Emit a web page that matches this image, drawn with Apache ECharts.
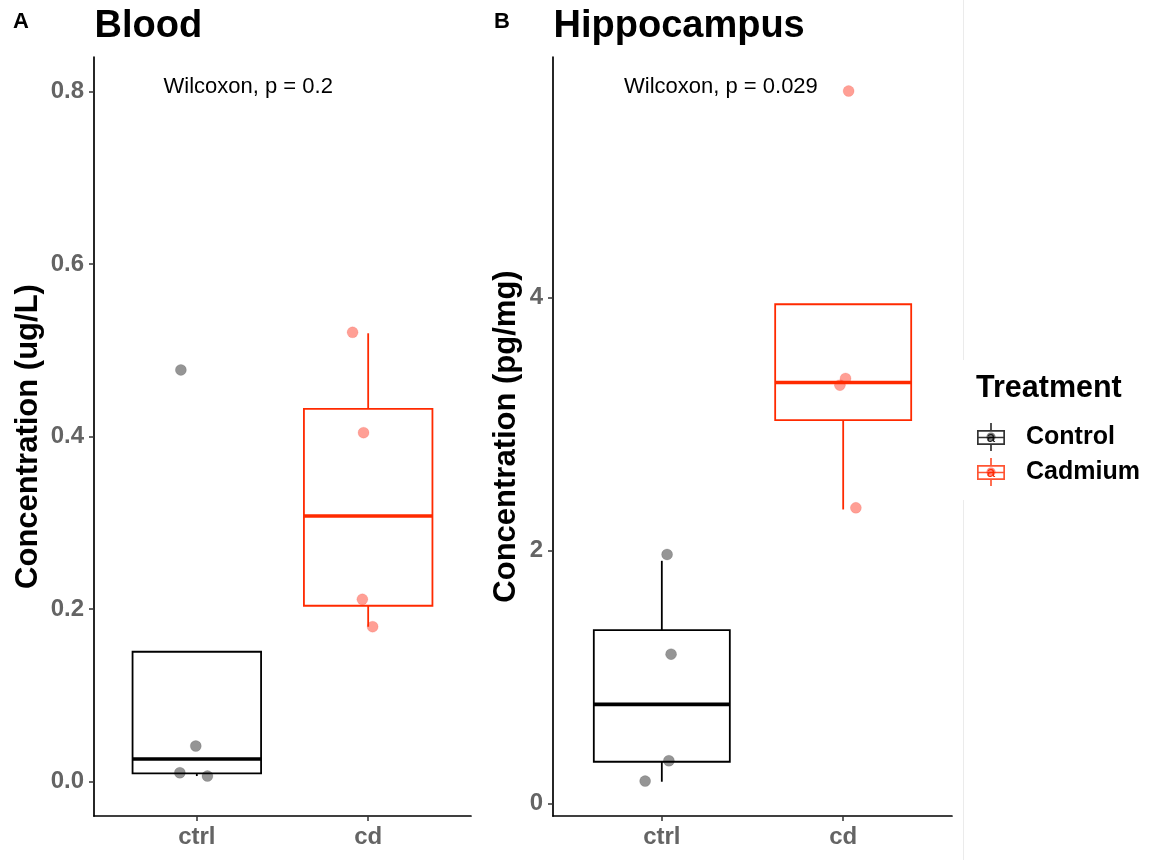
<!DOCTYPE html>
<html><head><meta charset="utf-8">
<script src="https://cdn.jsdelivr.net/npm/echarts@6/dist/echarts.min.js"></script>
<style>html,body{margin:0;padding:0;background:#fff}#c{width:1149px;height:860px}</style>
</head><body><div id="c"></div><script>
// ---------- data ----------
const categories = ['ctrl', 'cd'];
const groupNames = ['Control', 'Cadmium'];
const panelTitles = ['Blood', 'Hippocampus'];
const panelLetters = ['A', 'B'];
const yTitles = ['Concentration (ug/L)', 'Concentration (pg/mg)'];
const pLabels = ['Wilcoxon, p = 0.2', 'Wilcoxon, p = 0.029'];
const bloodTicks = [0, 0.2, 0.4, 0.6, 0.8];
const hippoTicks = [0, 2, 4];

// Blood (ug/L): jittered points
const bloodCtrlValues = [0.4771, 0.0414, 0.0104, 0.0066];
const bloodCtrlJitter = [-0.093, -0.006, -0.099, 0.062];
const bloodCdValues = [0.5207, 0.4044, 0.2114, 0.1796];
const bloodCdJitter = [-0.091, -0.027, -0.034, 0.026];
// box stats: [lower whisker, Q1, median, Q3, upper whisker]
const bloodCtrlBox = [0.0066, 0.0097, 0.0263, 0.1506, 0.1506];
const bloodCdBox = [0.1796, 0.2039, 0.3079, 0.4319, 0.5196];

// Hippocampus (pg/mg)
const hippoCtrlValues = [1.968, 1.180, 0.337, 0.176];
const hippoCtrlJitter = [0.029, 0.051, 0.039, -0.092];
const hippoCdValues = [5.633, 3.360, 3.307, 2.337];
const hippoCdJitter = [0.030, 0.013, -0.018, 0.070];
const hippoCtrlBox = [0.171, 0.329, 0.783, 1.370, 1.918];
const hippoCdBox = [2.324, 3.030, 3.328, 3.947, 3.947];

// ---------- style ----------
const FONT = 'Liberation Sans, Arial, Helvetica, sans-serif';
const RED = '#FF2A00';
const COLORS = ['#000000', RED];
const POINT_COLORS = ['rgba(0,0,0,0.52)', 'rgba(255,25,0,0.52)'];
const POINT_BORDERS = ['rgba(0,0,0,0.2)', 'rgba(230,20,0,0.2)'];
const BOX_WIDTH = 0.75;
const TICK_GREY = '#646464';

const grids = [
  { left: 94, top: 57, width: 377, height: 759 },
  { left: 553, top: 57, width: 399, height: 759 }
];
const yRanges = [[-0.0397, 0.8397], [-0.100, 5.902]];
const yTickSets = [bloodTicks, hippoTicks];
const yFormat = [v => v.toFixed(1), v => String(v)];
const nameGaps = [50, 31];

function boxRender(color) {
  return function (params, api) {
    const x = api.value(0);
    const pLo = api.coord([x, api.value(1)]);
    const pQ1 = api.coord([x, api.value(2)]);
    const pMed = api.coord([x, api.value(3)]);
    const pQ3 = api.coord([x, api.value(4)]);
    const pHi = api.coord([x, api.value(5)]);
    const half = api.size([BOX_WIDTH, 0])[0] / 2;
    const cx = pMed[0];
    const ls = { stroke: color, lineWidth: 1.8, fill: null };
    return {
      type: 'group',
      children: [
        { type: 'line', shape: { x1: cx, y1: pQ3[1], x2: cx, y2: pHi[1] }, style: ls },
        { type: 'line', shape: { x1: cx, y1: pQ1[1], x2: cx, y2: pLo[1] }, style: ls },
        { type: 'rect', shape: { x: cx - half, y: pQ3[1], width: 2 * half, height: pQ1[1] - pQ3[1] }, style: { stroke: color, lineWidth: 1.8, fill: 'none' } },
        { type: 'line', shape: { x1: cx - half, y1: pMed[1], x2: cx + half, y2: pMed[1] }, style: { stroke: color, lineWidth: 3.6 } }
      ]
    };
  };
}

function pts(values, jitter, catIndex) {
  return values.map((v, i) => [catIndex + 1 + jitter[i], v]);
}

const panelData = [
  { points: [pts(bloodCtrlValues, bloodCtrlJitter, 0), pts(bloodCdValues, bloodCdJitter, 1)], boxes: [bloodCtrlBox, bloodCdBox] },
  { points: [pts(hippoCtrlValues, hippoCtrlJitter, 0), pts(hippoCdValues, hippoCdJitter, 1)], boxes: [hippoCtrlBox, hippoCdBox] }
];

const series = [];
panelData.forEach((pd, p) => {
  [0, 1].forEach(g => {
    series.push({
      type: 'scatter', name: groupNames[g], xAxisIndex: p, yAxisIndex: p,
      data: pd.points[g], symbol: 'circle', symbolSize: 11, z: 2,
      itemStyle: { color: POINT_COLORS[g], borderWidth: 0.8, borderColor: POINT_BORDERS[g] },
      emphasis: { disabled: true }, silent: true
    });
  });
  [0, 1].forEach(g => {
    series.push({
      type: 'custom', name: groupNames[g], xAxisIndex: p, yAxisIndex: p,
      renderItem: boxRender(COLORS[g]), z: 3,
      data: [[g + 1].concat(pd.boxes[g])],
      encode: { x: 0, y: [1, 2, 3, 4, 5] },
      silent: true
    });
  });
});

const KEY_PATH = 'path://M0 7 L28 7 L28 22 L0 22 Z M1.7 8.7 L1.7 20.3 L26.3 20.3 L26.3 8.7 Z M1.7 13.7 L26.3 13.7 L26.3 15.3 L1.7 15.3 Z M13.15 0 L14.85 0 L14.85 7 L13.15 7 Z M13.15 22 L14.85 22 L14.85 28 L13.15 28 Z';

const LEG_TOP = 423;
const graphic = [
  { type: 'line', shape: { x1: 963.5, y1: 0, x2: 963.5, y2: 360 }, style: { stroke: '#ebebeb', lineWidth: 1 }, silent: true },
  { type: 'line', shape: { x1: 963.5, y1: 500, x2: 963.5, y2: 860 }, style: { stroke: '#ebebeb', lineWidth: 1 }, silent: true },
  { type: 'text', x: 976, y: 389, style: { text: 'Treatment', font: 'bold 30.5px ' + FONT, fill: '#000', verticalAlign: 'middle', align: 'left' } },
  { type: 'circle', shape: { cx: 991, cy: LEG_TOP + 14, r: 4.5 }, style: { fill: POINT_COLORS[0] }, z: 200 },
  { type: 'circle', shape: { cx: 991, cy: LEG_TOP + 49, r: 4.5 }, style: { fill: POINT_COLORS[1] }, z: 200 },
  { type: 'text', x: 991, y: LEG_TOP + 15, style: { text: 'a', font: '15px ' + FONT, fill: 'rgba(0,0,0,0.85)', align: 'center', verticalAlign: 'middle' }, z: 201 },
  { type: 'text', x: 991, y: LEG_TOP + 50, style: { text: 'a', font: '15px ' + FONT, fill: RED, align: 'center', verticalAlign: 'middle' }, z: 201 }
];
[0, 1].forEach(p => {
  graphic.push({ type: 'text', x: p === 0 ? 13 : 494, y: 22, style: { text: panelLetters[p], font: 'bold 22px ' + FONT, fill: '#000', verticalAlign: 'middle' } });
  graphic.push({ type: 'text', x: grids[p].left + 0.5, y: 27, style: { text: panelTitles[p], font: 'bold 38px ' + FONT, fill: '#000', verticalAlign: 'middle' } });
  graphic.push({ type: 'text', x: p === 0 ? 163.5 : 624, y: 87, style: { text: pLabels[p], font: '22px ' + FONT, fill: '#000', verticalAlign: 'middle' } });
});

const option = {
  backgroundColor: '#fff',
  animation: false,
  textStyle: { fontFamily: FONT },
  grid: grids.map(g => Object.assign({ containLabel: false, outerBoundsMode: 'none' }, g)),
  xAxis: [0, 1].map(p => ({
    type: 'value', gridIndex: p, min: 0.4, max: 2.6,
    axisLine: { show: true, onZero: false, lineStyle: { color: '#000', width: 1.7 } },
    axisTick: { show: true, length: 5, customValues: [1, 2], lineStyle: { color: '#333', width: 1.5 } },
    axisLabel: { customValues: [1, 2], formatter: v => categories[Math.round(v) - 1], fontSize: 24, fontWeight: 'bold', color: TICK_GREY, margin: 9, fontFamily: FONT },
    splitLine: { show: false }
  })),
  yAxis: [0, 1].map(p => ({
    type: 'value', gridIndex: p, min: yRanges[p][0], max: yRanges[p][1],
    name: yTitles[p], nameLocation: 'middle', nameGap: nameGaps[p], nameRotate: 90,
    nameTextStyle: { fontSize: 31, fontWeight: 'bold', color: '#000', fontFamily: FONT },
    axisLine: { show: true, onZero: false, lineStyle: { color: '#000', width: 1.7 } },
    axisTick: { show: true, length: 5, customValues: yTickSets[p], lineStyle: { color: '#333', width: 1.5 } },
    axisLabel: { customValues: yTickSets[p], formatter: yFormat[p], fontSize: 24, fontWeight: 'bold', color: TICK_GREY, margin: 10, fontFamily: FONT },
    splitLine: { show: false }
  })),
  legend: {
    orient: 'vertical', left: 977, top: LEG_TOP, padding: 0, itemWidth: 28, itemHeight: 28, itemGap: 7,
    selectedMode: false,
    data: [
      { name: 'Control', icon: KEY_PATH, itemStyle: { color: '#000', borderWidth: 0 } },
      { name: 'Cadmium', icon: KEY_PATH, itemStyle: { color: RED, borderWidth: 0 } }
    ],
    textStyle: { fontSize: 25, fontWeight: 'bold', color: '#000', fontFamily: FONT, padding: [0, 0, 0, 16] }
  },
  graphic: graphic,
  series: series
};

const chart = echarts.init(document.getElementById('c'), null, { renderer: 'canvas' });
chart.setOption(option);
</script></body></html>
